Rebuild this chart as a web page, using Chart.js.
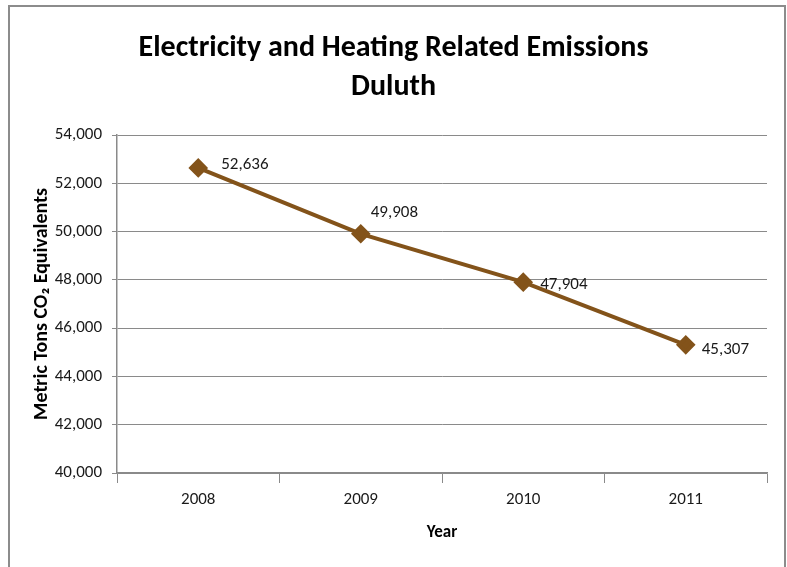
<!DOCTYPE html>
<html>
<head>
<meta charset="utf-8">
<script src="https://cdn.jsdelivr.net/npm/chart.js@4"></script>
<style>
  html, body { margin: 0; padding: 0; background: #fff; }
  #wrap { width: 787px; height: 567px; position: relative; }
</style>
</head>
<body>
<div id="wrap"><canvas id="c" width="787" height="567"></canvas></div>
<script>
const categories = ["2008", "2009", "2010", "2011"];
const emissions = [52636, 49908, 47904, 45307];
const yTicks = [40000, 42000, 44000, 46000, 48000, 50000, 52000, 54000];
const titleLines = ["Electricity and Heating Related Emissions", "Duluth"];
const yAxisTitle = "Metric Tons CO\u2082 Equivalents";
const xAxisTitle = "Year";

const FONT = "'Liberation Sans Narrow', Carlito, 'Open Sans', sans-serif";
const LINE = "#83531a";
const GRID = "#8a8a8a";

const frame = {
  id: 'frame',
  beforeDraw(chart) {
    const ctx = chart.ctx;
    ctx.save();
    ctx.strokeStyle = "#8c8c8c";
    ctx.lineWidth = 2;
    ctx.beginPath();
    ctx.moveTo(9, 600);
    ctx.lineTo(9, 6);
    ctx.lineTo(785, 6);
    ctx.lineTo(785, 600);
    ctx.stroke();
    ctx.restore();
  }
};

const labelOffsets = [[23, -3], [10, -21], [17, 3], [16, 5]];
const valueLabels = {
  id: 'valueLabels',
  afterDatasetsDraw(chart) {
    const ctx = chart.ctx;
    const meta = chart.getDatasetMeta(0);
    ctx.save();
    ctx.font = "17px " + FONT;
    ctx.fillStyle = "#1a1a1a";
    ctx.textBaseline = "middle";
    ctx.textAlign = "left";
    meta.data.forEach((pt, i) => {
      const v = chart.data.datasets[0].data[i];
      const o = labelOffsets[i];
      ctx.fillText(v.toLocaleString('en-US'), pt.x + o[0], pt.y + o[1]);
    });
    ctx.restore();
  }
};

new Chart(document.getElementById('c'), {
  type: 'line',
  data: {
    labels: categories,
    datasets: [{
      data: emissions,
      borderColor: LINE,
      backgroundColor: LINE,
      borderWidth: 4,
      pointStyle: 'rectRot',
      pointRadius: 7,
      pointHoverRadius: 7,
      tension: 0,
      fill: false
    }]
  },
  options: {
    responsive: false,
    animation: false,
    devicePixelRatio: 1,
    layout: { padding: { left: 20, right: 20, top: 0, bottom: 0 } },
    plugins: {
      legend: { display: false },
      tooltip: { enabled: false },
      title: {
        display: true,
        text: titleLines,
        color: "#000",
        font: { family: FONT, size: 30, weight: 'bold', lineHeight: 1.3 },
        padding: { top: 29, bottom: 28 }
      }
    },
    scales: {
      x: {
        type: 'category',
        offset: true,
        afterFit(s) { s.height = 94; },
        grid: { display: true, drawOnChartArea: false, drawTicks: true, tickLength: 10, color: GRID, offset: true },
        border: { display: true, color: GRID, width: 1.5 },
        ticks: { color: "#1a1a1a", padding: 7, font: { family: FONT, size: 17 } },
        title: {
          display: true, text: xAxisTitle, color: "#000",
          font: { family: FONT, size: 17, weight: 'bold', lineHeight: 1.2 },
          padding: { top: 0, bottom: 24 }
        }
      },
      y: {
        min: 40000, max: 54000,
        afterFit(s) { s.width = 97; },
        afterBuildTicks(s) { s.ticks = yTicks.map(v => ({ value: v })); },
        grid: { color: GRID, lineWidth: 1, tickLength: 5, drawTicks: true },
        border: { display: true, color: GRID, width: 1.5 },
        ticks: {
          color: "#1a1a1a", padding: 10,
          font: { family: FONT, size: 17 },
          callback: v => v.toLocaleString('en-US')
        },
        title: {
          display: true, text: yAxisTitle, color: "#000",
          font: { family: FONT, size: 20, weight: 'bold', lineHeight: 1.2 },
          padding: { top: 10, bottom: 0 }
        }
      }
    }
  },
  plugins: [frame, valueLabels]
});
</script>
</body>
</html>
